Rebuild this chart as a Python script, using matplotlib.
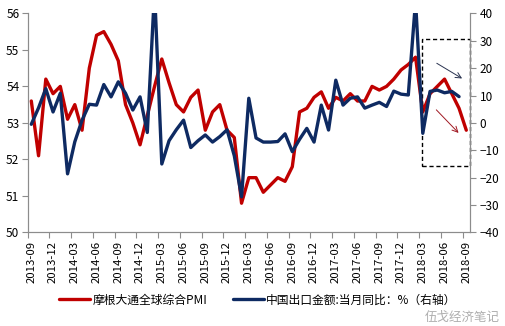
import numpy as np
import pandas as pd
import matplotlib
matplotlib.use('Agg')
import matplotlib.pyplot as plt
from matplotlib.patches import Rectangle

plt.rcParams['font.family'] = ['Noto Sans CJK SC', 'DejaVu Sans']

# monthly categories 2013-09 .. 2018-09
months = [p.strftime('%Y-%m') for p in pd.period_range('2013-09', '2018-09', freq='M')]

# JPMorgan global composite PMI (left axis)
pmi = [53.6, 52.1, 54.2, 53.8, 54.0, 53.1, 53.5, 52.8, 54.5, 55.4,
       55.5, 55.15, 54.7, 53.5, 53.0, 52.4, 53.2, 54.0, 54.75, 54.1,
       53.5, 53.3, 53.7, 53.9, 52.8, 53.3, 53.5, 52.8, 52.6, 50.8,
       51.5, 51.5, 51.1, 51.3, 51.5, 51.4, 51.8, 53.3, 53.4, 53.7,
       53.85, 53.4, 53.7, 53.6, 53.8, 53.6, 53.6, 54.0, 53.9, 54.0,
       54.2, 54.45, 54.6, 54.8, 53.3, 53.8, 54.0, 54.2, 53.8, 53.4,
       52.8]

# China exports yoy % (right axis), up to 2018-08
export = [-0.5, 5.5, 12.5, 4.0, 10.8, -18.6, -6.9, 1.0, 6.8, 6.5,
          14.0, 9.5, 15.0, 10.8, 4.7, 9.5, -3.5, 48.3, -15.0, -6.5,
          -2.5, 1.0, -9.0, -6.5, -4.4, -7.0, -5.0, -2.5, -12.0, -27.0,
          9.0, -5.5, -7.0, -7.0, -6.8, -4.0, -10.5, -6.0, -2.0, -7.0,
          6.5, -2.6, 15.6, 6.5, 9.0, 9.5, 5.4, 6.5, 7.5, 6.0,
          11.6, 10.5, 10.2, 44.5, -3.8, 11.5, 12.0, 11.0, 11.5, 9.6]

pmi_label = '摩根大通全球综合PMI'
export_label = '中国出口金额:当月同比：%（右轴）'

red = '#C00000'
navy = '#0E2A62'
grey = '#8C8C8C'

fig = plt.figure(figsize=(5.06, 3.26), dpi=100)
ax = fig.add_axes([0.0547, 0.287, 0.874, 0.672])
ax2 = ax.twinx()

x = np.arange(len(months))
l1, = ax.plot(x, pmi, color=red, lw=2.4, solid_joinstyle='round', solid_capstyle='round')
l2, = ax2.plot(x[:len(export)], export, color=navy, lw=2.4, solid_joinstyle='round', solid_capstyle='round')

ax.set_xlim(-0.5, len(months) - 0.5)
ax.set_ylim(50, 56)
ax2.set_ylim(-40, 40)
ax.set_yticks(np.arange(50, 57, 1))
ax2.set_yticks(np.arange(-40, 41, 10))

# tick marks between categories, labels on every 3rd month
ax.set_xticks(np.arange(-0.5, len(months), 3))
ax.set_xticklabels([])
ax.set_xticks(x[::3], minor=True)
ax.set_xticklabels(months[::3], minor=True, rotation=90, fontsize=8.2)
ax.tick_params(axis='x', which='minor', length=0, pad=6)
ax.tick_params(axis='x', which='major', length=4, color=grey)
ax.tick_params(axis='y', length=4, color=grey, labelsize=8.5, pad=2)
ax2.tick_params(axis='y', length=4, color=grey, labelsize=8.5, pad=3)

for a in (ax, ax2):
    a.spines['top'].set_visible(False)
    for s in ('left', 'right', 'bottom'):
        a.spines[s].set_color(grey)
        a.spines[s].set_linewidth(0.8)

# dashed box and arrows on the latest months
ax2.add_patch(Rectangle((53.9, -15.7), len(months) - 0.5 - 53.9, 46.2, fill=False,
                        ls=(0, (3, 2)), lw=1.0, ec='black', clip_on=False))
ax2.annotate('', xy=(59.75, 15.7), xytext=(55.6, 22.3),
             arrowprops=dict(arrowstyle='->', color='#2A3350', lw=0.7, mutation_scale=10))
ax2.annotate('', xy=(59.2, -4.4), xytext=(55.6, 5.5),
             arrowprops=dict(arrowstyle='->', color='#A01822', lw=0.7, mutation_scale=10))

fig.legend([l1, l2], [pmi_label, export_label], loc='center', bbox_to_anchor=(0.51, 0.08),
           ncol=2, frameon=False, fontsize=8.5, handlelength=2.6, handletextpad=0.2,
           columnspacing=2.2)

fig.text(0.84, 0.015, '伍戈经济笔记', color='#9A9A9A', alpha=0.8, fontsize=9)

fig.savefig('out.png', dpi=100)
